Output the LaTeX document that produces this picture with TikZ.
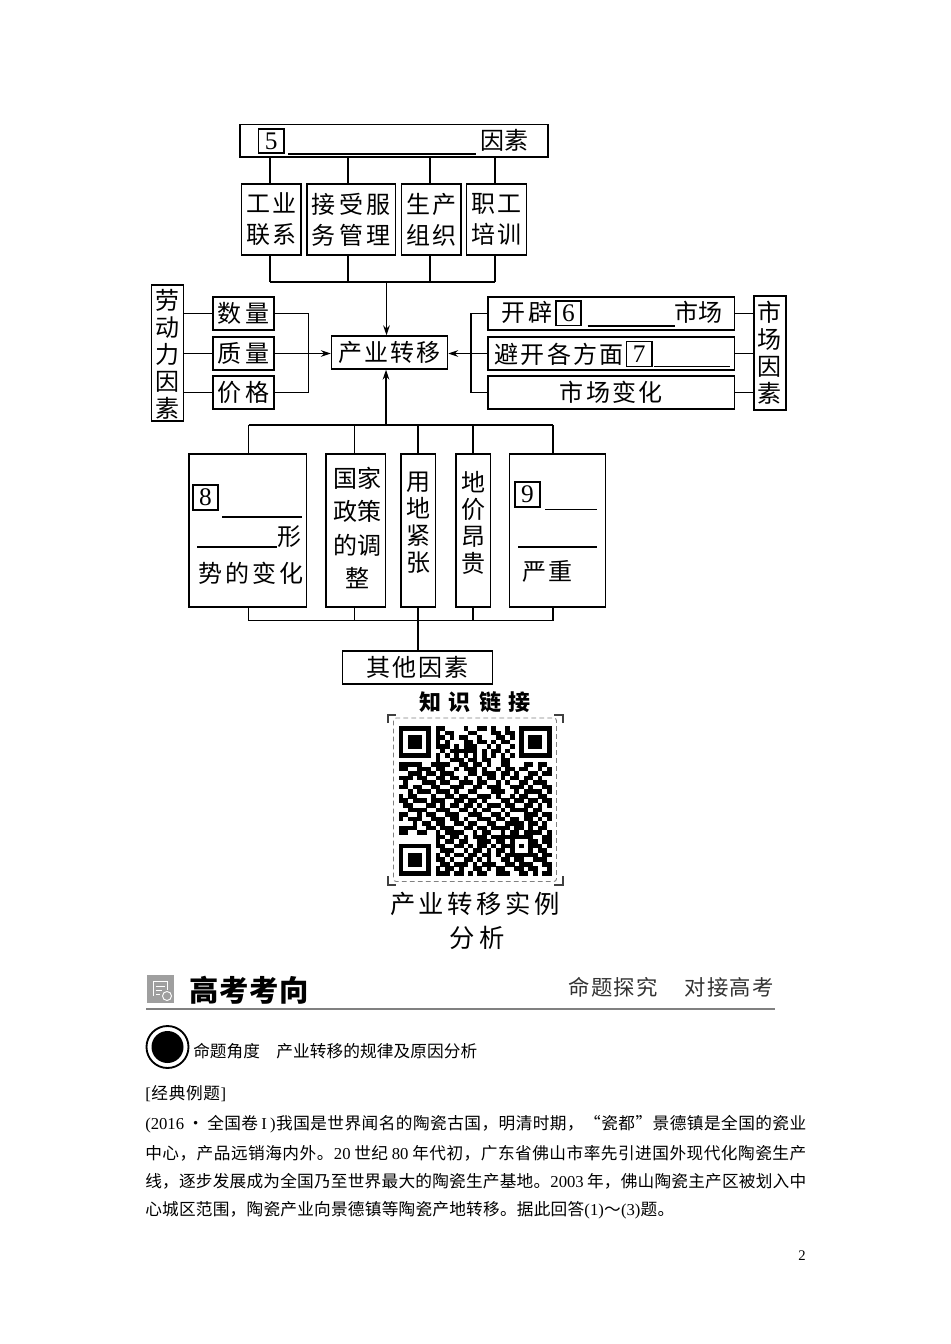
\documentclass[tikz,border=0pt]{standalone}
\usepackage{fontspec}
\setmainfont{Noto Sans CJK SC}
\newfontfamily\lat{Liberation Serif}
\usetikzlibrary{arrows.meta,calc}
\newdimen\px \px=0.75pt
\newcount\qrc
\makeatletter
\newcommand\F[2]{\hbox to #1\px{\@tfor\ch:=#2\do{{\ch}\hfil}\unskip}}
\makeatother
\def\qrwalk#1{\ifx#1.\else\if1#1\fill[black] ({398.7+4.63*\the\qrc},{726+4.53*\qry}) rectangle +(4.7,4.6);\fi\advance\qrc by 1 \expandafter\qrwalk\fi}
\newcommand\qrrow[2]{\qrc=0 \def\qry{#1}\qrwalk#2.}
\newcommand\bx[6]{\node[bxs,minimum width={(#4-#2)*0.75pt},minimum height={(#5-#3)*0.75pt}] (#1) at ({(#2+#4)/2},{(#3+#5)/2}) {#6};}
\newcommand\num[6]{\node[nums,minimum width={(#4-#2)*0.75pt},minimum height={(#5-#3)*0.75pt}] (#1) at ({(#2+#4)/2},{(#3+#5)/2}) {#6};}
\tikzset{
  bxs/.style={draw=black,line width=1.1pt,inner sep=0pt,align=center,font=\fontsize{18}{23.25}\selectfont},
  nums/.style={draw=black,line width=1.1pt,inner sep=0pt,font=\lat\fontsize{19}{19}\selectfont},
  lbl/.style={inner sep=0pt,align=center,font=\fontsize{18}{20.25}\selectfont},
  body/.style={inner sep=0pt,anchor=west,font=\fontsize{12.5}{14}\selectfont},
  conn/.style={line width=1.1pt,draw=black},
  tip/.style={conn,-{Stealth[length=7.5pt,width=5pt]}},
  ul/.style={line width=0.9pt,draw=black},
}
\begin{document}
\begin{tikzpicture}[x=0.75pt,y=-0.75pt]
\useasboundingbox (0,0) rectangle (950,1344);
\fill[white] (0,0) rectangle (950,1344);
% top group
\bx{top}{240}{124.5}{548}{157}{}
\num{n5}{258.5}{129}{284}{153}{5}
\draw[ul] (288,154) -- (476,154);
\node[lbl] (topt) at (504.5,140) {\F{49}{因素}};
\bx{b1}{241.5}{184}{301}{255}{\F{50}{工业}\\\F{50}{联系}}
\bx{b2}{307}{184}{395.5}{255}{\F{79}{接受服}\\\F{79}{务管理}}
\bx{b3}{401.5}{184}{461}{255}{\F{50}{生产}\\\F{50}{组织}}
\bx{b4}{466.5}{184}{526.5}{255}{\F{50}{职工}\\\F{50}{培训}}
\coordinate (ta) at (270,282);
\coordinate (tb) at (348,282);
\coordinate (tc) at (430,282);
\coordinate (td) at (495,282);
\coordinate (tj) at (386.5,282);
\foreach \c/\b in {ta/b1,tb/b2,tc/b3,td/b4}{
  \draw[conn] (\c |- top.south) -- (\c |- \b.north);
  \draw[conn] (\c |- \b.south) -- (\c);
}
\draw[conn] (ta) -- (td);
% centre
\bx{cy}{331.5}{336}{447.5}{369}{\F{103}{产业转移}}
\draw[tip] (tj) -- (tj |- cy.north);
% left
\bx{lao}{151.5}{285}{183.5}{421}{}
\node[lbl] (laot) at (167.5,354) {劳\\动\\力\\因\\素};
\bx{shu}{213}{297}{274}{330}{\F{52}{数量}}
\bx{zhi}{213}{337}{274}{370}{\F{52}{质量}}
\bx{jia}{213}{376}{274}{409}{\F{52}{价格}}
\coordinate (lj) at (308.5,353.5);
\foreach \b in {shu,zhi,jia}{\draw[conn] (lao.east |- \b.west) -- (\b.west);}
\draw[conn] (shu.east) -- (lj |- shu.east) -- (lj |- jia.east) -- (jia.east);
\draw[tip] (zhi.east) -- (cy.west |- zhi.east);
% right
\bx{r1}{488}{297}{734.5}{330}{}
\bx{r2}{488}{337}{734.5}{370}{}
\bx{r3}{488}{376}{734.5}{409}{\F{103}{市场变化}}
\node[lbl] (r1a) at (527,312) {\F{51}{开辟}};
\num{n6}{556}{301}{581}{325.5}{6}
\draw[ul] (587.5,326) -- (675,326);
\node[lbl] (r1b) at (698,312) {\F{48}{市场}};
\node[lbl] (r2a) at (559,354) {\F{130}{避开各方面}};
\num{n7}{626.5}{341.5}{652}{366.5}{7}
\draw[ul] (654,366.5) -- (730,366.5);
\bx{sc}{754}{296}{786}{410}{}
\node[lbl] (sct) at (769.5,353) {市\\场\\因\\素};
\coordinate (rj) at (471,353.5);
\foreach \b in {r1,r2,r3}{\draw[conn] (\b.east) -- (sc.west |- \b.east);}
\draw[conn] (r1.west) -- (rj |- r1.west) -- (rj |- r3.west) -- (r3.west);
\draw[tip] (r2.west) -- (cy.east |- r2.west);
% bottom group
\bx{c1}{189}{454}{306.5}{607}{}
\bx{c2}{326}{454}{385.5}{607}{}
\bx{c3}{401}{454}{435.5}{607}{}
\bx{c4}{456}{454}{490.5}{607}{}
\bx{c5}{509.5}{454}{605.5}{607}{}
\num{n8}{193}{485}{218}{510}{8}
\draw[ul] (222,517) -- (302,517);
\draw[ul] (197,547) -- (277,547);
\node[lbl] (c1a) at (289.5,537) {形};
\node[lbl] (c1b) at (250.5,573) {\F{105}{势的变化}};
\node[lbl] (c2t) at (357.5,528) [font=\fontsize{18}{25}\selectfont] {\F{49}{国家}\\\F{49}{政策}\\\F{49}{的调}\\整};
\node[lbl] (c3t) at (418,522.5) {用\\地\\紧\\张};
\node[lbl] (c4t) at (473,522.5) {地\\价\\昂\\贵};
\num{n9}{515}{482}{540}{507}{9}
\draw[ul] (545,509.5) -- (597,509.5);
\draw[ul] (518,547) -- (597,547);
\node[lbl] (c5t) at (547,571) {\F{50}{严重}};
\coordinate (ba) at (248.5,425);
\coordinate (bb) at (354.5,425);
\coordinate (bc) at (418,425);
\coordinate (bd) at (473,425);
\coordinate (be) at (553,425);
\coordinate (bj) at (386,425);
\coordinate (ga) at (248.5,620.5);
\coordinate (gb) at (354.5,620.5);
\coordinate (gc) at (418,620.5);
\coordinate (gd) at (473,620.5);
\coordinate (ge) at (553,620.5);
\foreach \c/\g/\b in {ba/ga/c1,bb/gb/c2,bc/gc/c3,bd/gd/c4,be/ge/c5}{
  \draw[conn] (\c) -- (\c |- \b.north);
  \draw[conn] (\g |- \b.south) -- (\g);
}
\draw[conn] (ba) -- (be);
\draw[conn] (ga) -- (ge);
\draw[tip] (bj) -- (bj |- cy.south);
\bx{qt}{342.5}{651}{492.5}{684}{\F{102}{其他因素}}
\draw[conn] (gc) -- (gc |- qt.north);
% QR
\node[inner sep=0pt,font=\bfseries\fontsize{16.5}{18}\selectfont] (qrt) at (475,702) {\F{112}{知识链接}};
\draw[gray,line width=0.7pt,dash pattern=on 3.5pt off 2.5pt,rounded corners=2pt] (393.5,718) rectangle (556.5,881.5);
\draw[black!75,line width=1.5pt] (387.5,723) -- (387.5,714.5) -- (396,714.5);
\draw[black!75,line width=1.5pt] (554,714.5) -- (563,714.5) -- (563,723);
\draw[black!75,line width=1.5pt] (387.5,876) -- (387.5,885) -- (396,885);
\draw[black!75,line width=1.5pt] (554,885) -- (563,885) -- (563,876);
\qrrow{0}{111111101100001001101001001111111}
\qrrow{1}{100000101011000110001101101000001}
\qrrow{2}{101110101101011001000110101011101}
\qrrow{3}{101110101010001101101011001011101}
\qrrow{4}{101110101110101110010100101011101}
\qrrow{5}{100000100101111110101101001000001}
\qrrow{6}{111111101010101010101010101111111}
\qrrow{7}{000000001001110110110011000000000}
\qrrow{8}{111110011110011011010011000110110}
\qrrow{9}{110011101100101110100101101100101}
\qrrow{10}{001110110111000110111011010011011}
\qrrow{11}{111011001101101001011010110110100}
\qrrow{12}{010001110110011101100101001101110}
\qrrow{13}{110110011001110011011100111010011}
\qrrow{14}{001011101110100110001110010111101}
\qrrow{15}{101100010011011001110100101100110}
\qrrow{16}{110111011100110110100011011011011}
\qrrow{17}{011000110101101101011101100110101}
\qrrow{18}{001111001110011010110010111101100}
\qrrow{19}{110010110011100111001101000111011}
\qrrow{20}{101110011101101001110110110110101}
\qrrow{21}{000101101100110110011001111011010}
\qrrow{22}{111100110111001101101111011010110}
\qrrow{23}{110011001011110010110010110111101}
\qrrow{24}{000000001101101011101111111110011}
\qrrow{25}{000000001011011001110110100011011}
\qrrow{26}{111111101100110101101011101011101}
\qrrow{27}{100000100111001011010110100010110}
\qrrow{28}{101110101010110110110101111111011}
\qrrow{29}{101110101101001101010011011001110}
\qrrow{30}{101110100110111010111001101110011}
\qrrow{31}{100000101011010011010110011011001}
\qrrow{32}{111111101110110101100111001101011}
\node[inner sep=0pt,font=\fontsize{19}{24}\selectfont] (qa) at (475,904) {\F{170}{产业转移实例}};
\node[inner sep=0pt,font=\fontsize{19}{24}\selectfont] (qb) at (477,938) {\F{55}{分析}};
% header
\fill[gray!75] (146.5,974.5) rectangle (173.5,1002.5);
\draw[white,line width=0.7pt] (153,996) -- (153,981.5) -- (167,981.5) -- (167,990);
\draw[white,line width=0.7pt] (155.5,986) -- (164.5,986) (155.5,990) -- (162,990) (155.5,994) -- (160,994);
\draw[white,fill=gray!75,line width=0.7pt] (167,996) circle (4.5);
\node[inner sep=0pt,font=\bfseries\fontsize{22}{24}\selectfont] (gk) at (249,990) {\F{120}{高考考向}};
\node[inner sep=0pt,text=black!80,font=\fontsize{16}{18}\selectfont] (h1) at (613,987) {\F{89}{命题探究}};
\node[inner sep=0pt,text=black!80,font=\fontsize{16}{18}\selectfont] (h2) at (729,987) {\F{89}{对接高考}};
\draw[gray,line width=2.2pt] (146,1009) -- (775,1009);
\draw[black,line width=1.4pt] (167.5,1047) circle (21);
\fill[black] (167.5,1047) circle (16);
\node[body] (a1) at (193,1051) {\F{66}{命题角度}};
\node[body] (a2) at (276,1051) {\F{201}{产业转移的规律及原因分析}};
% body text
\node[body] (l0) at (145,1094) {\F{81}{{\lat[}经典例题{\lat]}}};
\node[body] (l1) at (145,1124) {\F{661}{{\lat(2016}{\,•\,}全国卷{\lat\,I\,}{\lat)}我国是世界闻名的陶瓷古国，明清时期，{“}瓷都{”}景德镇是全国的瓷业}};
\node[body] (l2) at (145,1153) {\F{661}{中心，产品远销海内外。{\lat 20}{\,}世纪{\,}{\lat 80}{\,}年代初，广东省佛山市率先引进国外现代化陶瓷生产}};
\node[body] (l3) at (145,1181) {\F{661}{线，逐步发展成为全国乃至世界最大的陶瓷生产基地。{\lat 2003}{\,}年，佛山陶瓷主产区被划入中}};
\node[body] (l4) at (145,1210) {\F{529}{心城区范围，陶瓷产业向景德镇等陶瓷产地转移。据此回答{\lat(1)}～{\lat(3)}题。}};
\node[inner sep=0pt,font=\lat\fontsize{11}{12}\selectfont] (pg) at (802,1256) {2};
\end{tikzpicture}
\end{document}
